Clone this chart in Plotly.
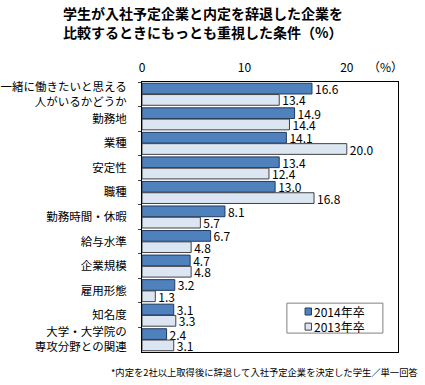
import plotly.graph_objects as go

categories = ["一緒に働きたいと思える<br>人がいるかどうか", "勤務地", "業種", "安定性", "職種",
              "勤務時間・休暇", "給与水準", "企業規模", "雇用形態", "知名度",
              "大学・大学院の<br>専攻分野との関連"]
v2014 = [16.6, 14.9, 14.1, 13.4, 13.0, 8.1, 6.7, 4.7, 3.2, 3.1, 2.4]
v2013 = [13.4, 14.4, 20.0, 12.4, 16.8, 5.7, 4.8, 4.8, 1.3, 3.3, 3.1]
series_names = ["2014年卒", "2013年卒"]
tick_vals = [0, 10, 20]

font = "Noto Sans CJK JP"
colors = ["#4F81BD", "#DCE6F2"]
edges = ["#1F3A60", "#404040"]

fig = go.Figure()
for vals, name, c, e in zip([v2014, v2013], series_names, colors, edges):
    fig.add_trace(go.Bar(
        y=categories, x=vals, orientation="h", name=name, showlegend=False,
        marker=dict(color=c, line=dict(color=e, width=1)),
        text=[f"{v:.1f}" for v in vals], textposition="outside", constraintext="none",
        textfont=dict(size=12, color="#000000", family=font), cliponaxis=False,
    ))

fig.update_layout(
    width=425, height=385,
    margin=dict(l=142, r=27, t=82, b=33),
    paper_bgcolor="white", plot_bgcolor="white",
    barmode="group", bargap=0.08, bargroupgap=0.05,
    font=dict(family=font, size=12, color="#000000"),
    showlegend=False,
)
fig.update_xaxes(range=[0, 25], side="top", tickvals=tick_vals, ticktext=[str(t) for t in tick_vals],
                 showgrid=False, zeroline=False, showline=True, linecolor="#000000", mirror=True,
                 ticks="", tickfont=dict(size=12), automargin=False, ticklabelstandoff=4)
fig.update_yaxes(autorange="reversed", showgrid=False, showline=True, linecolor="#000000",
                 mirror=True, ticks="outside", ticklen=3, tickson="boundaries",
                 tickfont=dict(size=11.5), ticklabelstandoff=12, automargin=False)

# legend box (manual, to match the compact reference legend)
fig.add_shape(type="rect", xref="paper", yref="paper", x0=0.566, x1=0.941, y0=0.070, y1=0.181,
              line=dict(color="#808080", width=1), fillcolor="white", layer="above")
for name, c, e, yc in zip(series_names, colors, edges, [0.150, 0.094]):
    fig.add_shape(type="rect", xref="paper", yref="paper", x0=0.637, x1=0.662,
                  y0=yc - 0.013, y1=yc + 0.013, line=dict(color=e, width=1), fillcolor=c,
                  layer="above")
    fig.add_annotation(text=name, xref="paper", yref="paper", x=0.664, y=yc, showarrow=False,
                       font=dict(size=12), xanchor="left", yanchor="middle")

fig.add_annotation(text="<b>学生が入社予定企業と内定を辞退した企業を</b>", xref="paper", yref="paper",
                   x=0.238, y=1.255, showarrow=False, font=dict(size=14), xanchor="center", yanchor="middle")
fig.add_annotation(text="<b>比較するときにもっとも重視した条件（%）</b>", xref="paper", yref="paper",
                   x=0.238, y=1.184, showarrow=False, font=dict(size=14), xanchor="center", yanchor="middle")
fig.add_annotation(text="（%）", xref="paper", yref="paper", x=0.95, y=1.059,
                   showarrow=False, font=dict(size=12), xanchor="center", yanchor="middle")
fig.add_annotation(text="*内定を2社以上取得後に辞退して入社予定企業を決定した学生／単一回答",
                   xref="paper", yref="paper", x=1.086, y=-0.074, showarrow=False,
                   font=dict(size=9.3), xanchor="right", yanchor="middle")

fig.write_html("out.html", config={"displayModeBar": False},
               post_script="document.body.style.margin='0';")
